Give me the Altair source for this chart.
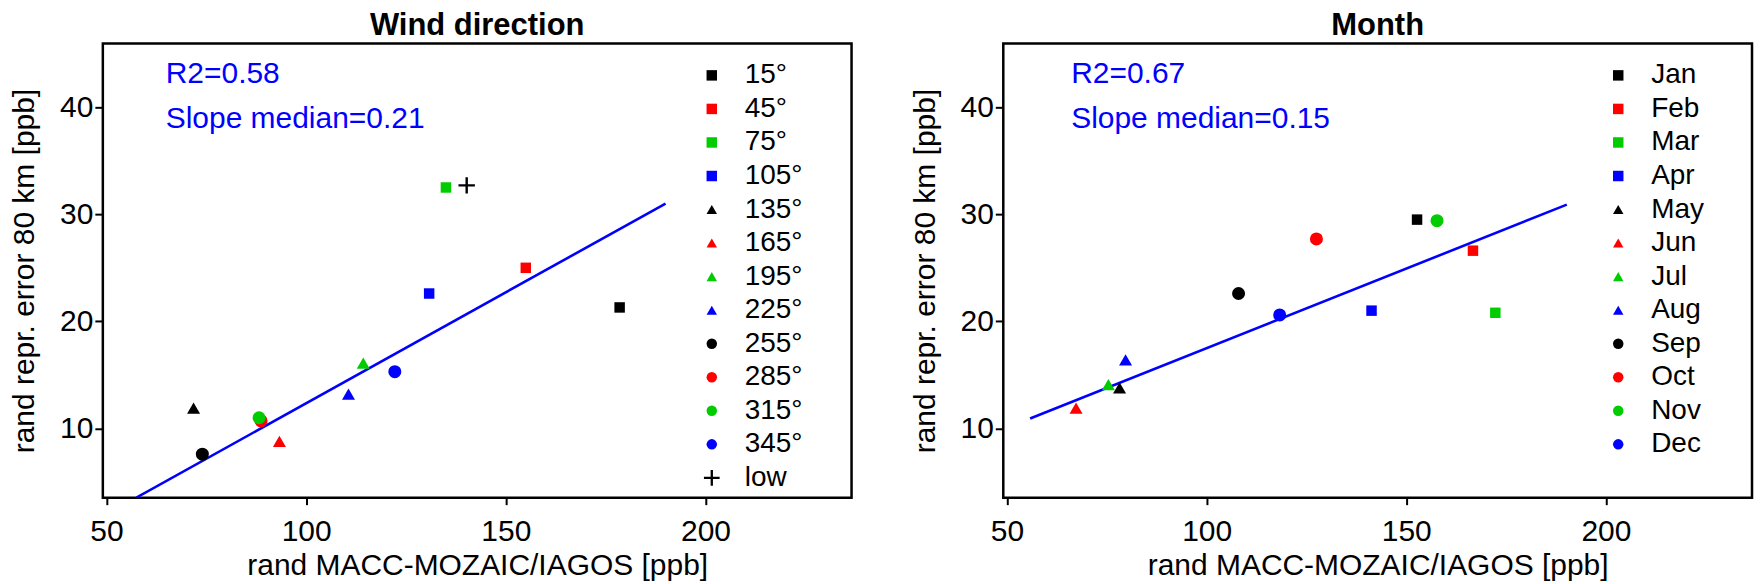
import altair as alt
import pandas as pd

FONT = "Liberation Sans"
BLACK, RED, GREEN, BLUE = "#000000", "#ff0000", "#00cc00", "#0000ff"
# thin "+" used for the "low" class
PLUS = "M-1.5,-0.22H1.5V0.22H-1.5Z M-0.22,-1.5H0.22V1.5H-0.22Z"

# --- Wind direction panel ---
wind_cats = ["15°", "45°", "75°", "105°", "135°", "165°", "195°", "225°",
             "255°", "285°", "315°", "345°", "low"]
wind_x = [178.5, 155.0, 135.0, 130.8, 71.8, 93.3, 114.3, 110.6, 74.0, 88.7, 88.2, 122.2, 140.2]
wind_y = [21.3, 25.0, 32.5, 22.6, 11.9, 8.8, 16.1, 13.2, 7.6, 10.7, 11.0, 15.3, 32.7]
wind_fit_x = [57.5, 190.0]
wind_fit_y = [3.55, 31.0]
wind_stats = ["R2=0.58", "Slope median=0.21"]

# --- Month panel ---
month_cats = ["Jan", "Feb", "Mar", "Apr", "May", "Jun", "Jul", "Aug",
              "Sep", "Oct", "Nov", "Dec"]
month_x = [152.7, 166.7, 172.3, 141.3, 78.2, 67.3, 75.4, 79.7, 108.0, 127.5, 157.7, 118.3]
month_y = [29.5, 26.6, 20.8, 21.0, 13.8, 11.9, 14.1, 16.4, 22.6, 27.7, 29.4, 20.6]
month_fit_x = [55.8, 190.2]
month_fit_y = [10.93, 30.9]
month_stats = ["R2=0.67", "Slope median=0.15"]

x_ticks = [50, 100, 150, 200]
y_ticks = [10, 20, 30, 40]
X_DOMAIN = [49.08, 236.58]
Y_DOMAIN = [3.54, 45.95]

PALETTE = [BLACK, RED, GREEN, BLUE]
SHAPES = ["square", "triangle-up", "circle"]
SIZES = [110, 170, 170]


def panel(title, cats, xs, ys, fit_x, fit_y, stats, legend_x, text_x):
    n = len(cats)
    colors = [PALETTE[i % 4] for i in range(n)]
    shapes = [SHAPES[i // 4] if i < 12 else PLUS for i in range(n)]
    sizes = [SIZES[i // 4] if i < 12 else 120 for i in range(n)]

    x_enc = alt.X("x:Q", title="rand MACC-MOZAIC/IAGOS [ppb]",
                  scale=alt.Scale(domain=X_DOMAIN, nice=False, zero=False),
                  axis=alt.Axis(values=x_ticks, tickSize=7, labelPadding=12, titlePadding=4))
    y_enc = alt.Y("y:Q", title="rand repr. error 80 km [ppb]",
                  scale=alt.Scale(domain=Y_DOMAIN, nice=False, zero=False),
                  axis=alt.Axis(values=y_ticks, tickSize=8, labelPadding=2, titlePadding=20))

    pts = (
        alt.Chart(pd.DataFrame({"cat": cats, "x": xs, "y": ys, "sz": sizes}))
        .mark_point(filled=True, opacity=1)
        .encode(
            x=x_enc,
            y=y_enc,
            color=alt.Color("cat:N", scale=alt.Scale(domain=cats, range=colors),
                            legend=alt.Legend(title=None, orient="none", legendX=legend_x, legendY=18)),
            shape=alt.Shape("cat:N", scale=alt.Scale(domain=cats, range=shapes)),
            size=alt.Size("sz:Q", scale=None),
        )
    )

    fit = (
        alt.Chart(pd.DataFrame({"x": fit_x, "y": fit_y}))
        .mark_line(color=BLUE, strokeWidth=2.6, clip=True)
        .encode(x="x:Q", y="y:Q")
    )

    txt = alt.Chart(pd.DataFrame({"t": [stats[0]]})).mark_text(
        align="left", baseline="alphabetic", font=FONT, fontSize=30, color=BLUE
    ).encode(x=alt.value(text_x), y=alt.value(40), text="t:N")
    txt2 = alt.Chart(pd.DataFrame({"t": [stats[1]]})).mark_text(
        align="left", baseline="alphabetic", font=FONT, fontSize=30, color=BLUE
    ).encode(x=alt.value(text_x), y=alt.value(85), text="t:N")

    return (fit + pts + txt + txt2).properties(
        width=750, height=455, title=alt.TitleParams(title, anchor="middle")
    )


left = panel("Wind direction", wind_cats, wind_x, wind_y, wind_fit_x, wind_fit_y,
             wind_stats, 596, 63)
right = panel("Month", month_cats, month_x, month_y, month_fit_x, month_fit_y,
              month_stats, 602, 68)

chart = (
    alt.hconcat(left, right, spacing=55)
    .resolve_scale(color="independent", shape="independent")
    .properties(padding=0, background="white")
    .configure_view(stroke=BLACK, strokeWidth=2.5)
    .configure_axis(
        grid=False, domain=False, labelFont=FONT, titleFont=FONT,
        labelFontSize=30, titleFontSize=30, labelColor=BLACK, titleColor=BLACK,
        tickColor=BLACK, tickWidth=2, titleFontWeight="normal",
    )
    .configure_legend(
        labelFont=FONT, labelFontSize=28, labelColor=BLACK, padding=0,
        rowPadding=5.6, labelOffset=19, symbolSize=110, symbolStrokeWidth=0,
    )
    .configure_title(font=FONT, fontSize=31, fontWeight="bold", color=BLACK, offset=1)
)

chart.save("out.html", embed_options={"renderer": "svg", "actions": False})
